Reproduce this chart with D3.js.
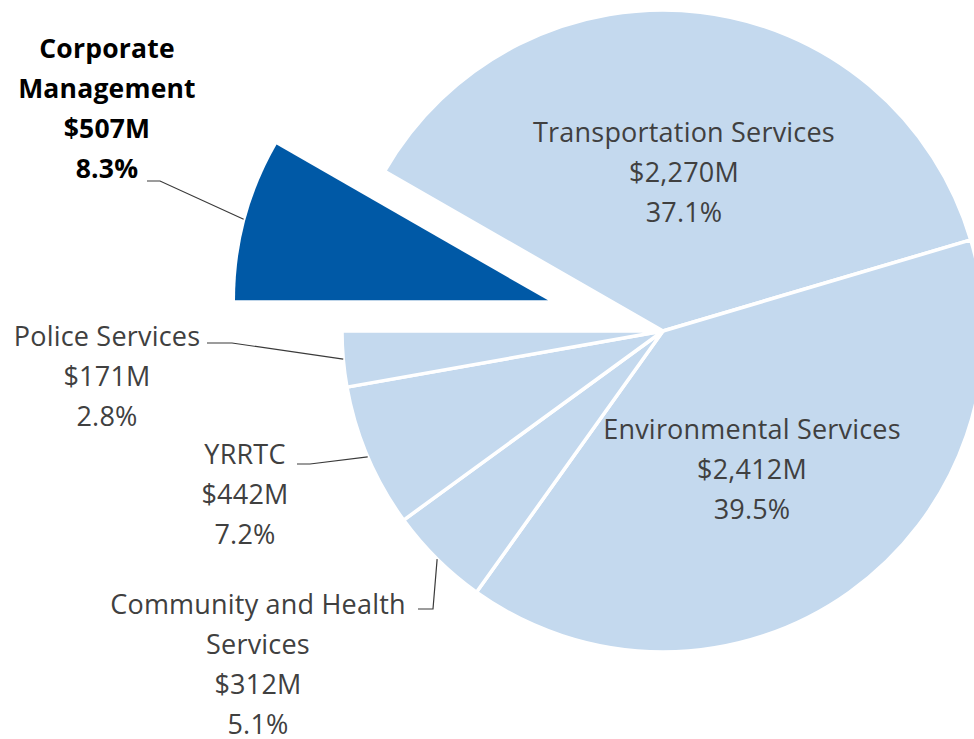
<!DOCTYPE html>
<html>
<head>
<meta charset="utf-8">
<script src="https://cdn.jsdelivr.net/npm/d3@7"></script>
<style>
  body { margin: 0; background: #fff; }
  svg { display: block; font-family: "Open Sans", Lato, sans-serif; font-variant-ligatures: none; }
</style>
</head>
<body>
<svg id="pie-chart" width="974" height="739"></svg>
<script>
// budget by department, $ millions
var categories = ["Transportation Services", "Environmental Services", "Community and Health Services",
                  "YRRTC", "Police Services", "Corporate Management"];
var values = [2270, 2412, 312, 442, 171, 507];
var highlighted = "Corporate Management";

// label placement (layout only): first baseline, centre x, leader line start / elbow
var labelLayout = [
  {x: 684, y: 142, lines: ["Transportation Services"]},
  {x: 752, y: 439, lines: ["Environmental Services"]},
  {x: 258, y: 614, lines: ["Community and Health", "Services"], from: [418, 609], elbow: [433, 609]},
  {x: 245, y: 464, lines: ["YRRTC"], from: [297, 464], elbow: [310, 464]},
  {x: 107, y: 346, lines: ["Police Services"], from: [207, 343], elbow: [232, 343]},
  {x: 107, y: 58, lines: ["Corporate", "Management"], from: [147, 181], elbow: [160, 181]}
];

var width = 974, height = 739,
    cx = 663, cy = 331,
    radius = 321,
    explode = 119,
    lineGap = 40;

var svg = d3.select("#pie-chart");
var g = svg.append("g").attr("transform", "translate(" + cx + "," + cy + ")");

var total = d3.sum(values);
var fmtPct = d3.format(".1%"), fmtMoney = d3.format(",");

var data = categories.map(function(c, i) { return {name: c, value: values[i]}; });

// highlighted slice ends at 9 o'clock
var corpAngle = 2 * Math.PI * values[categories.indexOf(highlighted)] / total;
var pie = d3.pie()
  .sort(null)
  .value(d => d.value)
  .startAngle(-Math.PI / 2 + corpAngle)
  .endAngle(-Math.PI / 2 + corpAngle + 2 * Math.PI);

var arcs = pie(data);
var arc = d3.arc().innerRadius(0).outerRadius(radius);
var arcCorp = d3.arc().innerRadius(0).outerRadius(radius - 8);

function offset(d) {
  if (d.data.name !== highlighted) return [0, 0];
  var a = (d.startAngle + d.endAngle) / 2;
  return [Math.sin(a) * explode, -Math.cos(a) * explode];
}

g.selectAll("path.slice").data(arcs).enter().append("path")
  .attr("class", "slice")
  .attr("transform", d => "translate(" + offset(d) + ")")
  .attr("d", d => d.data.name === highlighted ? arcCorp(d) : arc(d))
  .attr("fill", d => d.data.name === highlighted ? "#0059a6" : "#c4d9ee")
  .attr("stroke", d => d.data.name === highlighted ? "none" : "#fff")
  .attr("stroke-width", 3.5)
  .attr("stroke-linejoin", "round");

// leader lines to the outer edge at mid-angle
arcs.forEach(function(d, i) {
  var L = labelLayout[i];
  if (!L.from) return;
  var a = (d.startAngle + d.endAngle) / 2;
  var r = d.data.name === highlighted ? radius - 6 : radius;
  var o = offset(d);
  var end = [cx + o[0] + Math.sin(a) * r, cy + o[1] - Math.cos(a) * r];
  svg.append("path")
    .attr("d", d3.line()([L.from, L.elbow, end]))
    .attr("fill", "none")
    .attr("stroke", "#3a3a3a")
    .attr("stroke-width", 1.2);
});

// labels
arcs.forEach(function(d, i) {
  var L = labelLayout[i];
  var bold = d.data.name === highlighted;
  var lines = L.lines.concat(["$" + fmtMoney(d.data.value) + "M", fmtPct(d.data.value / total)]);
  var t = svg.append("text")
    .attr("text-anchor", "middle")
    .attr("font-size", bold ? 26.5 : 27)
    .attr("letter-spacing", 0.2)
    .attr("font-weight", bold ? "bold" : "normal")
    .attr("fill", bold ? "#000" : "#404040");
  lines.forEach(function(s, k) {
    t.append("tspan").attr("x", L.x).attr("y", L.y + k * lineGap).text(s);
  });
});
</script>
</body>
</html>
